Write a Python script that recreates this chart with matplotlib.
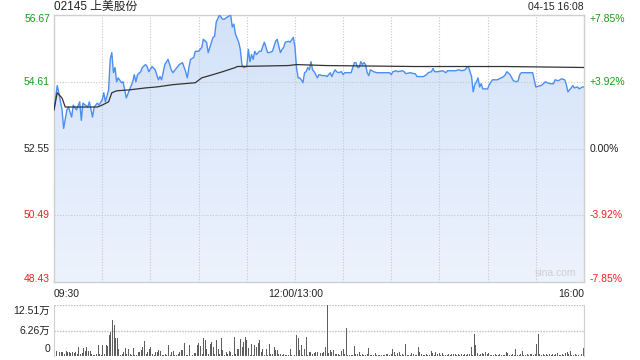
import matplotlib
matplotlib.use("Agg")
import matplotlib.pyplot as plt
import matplotlib.transforms as mtransforms
from matplotlib.path import Path
from matplotlib.patches import PathPatch
from matplotlib.colors import LinearSegmentedColormap
import numpy as np

plt.rcParams['font.family'] = ['Liberation Sans', 'Noto Sans CJK SC']

# ---- data ----
title = "02145 上美股份"
stamp = "04-15 16:08"
prev_close = 52.55
price_ticks = [48.43, 50.49, 52.55, 54.61, 56.67]
pct_labels = ["-7.85%", "-3.92%", "0.00%", "+3.92%", "+7.85%"]
time_labels = ["09:30", "12:00/13:00", "16:00"]
vol_max = 12.51
vol_labels = ["0", "6.26万", "12.51万"]

# minutes since 09:30 (lunch break removed) and price
px_min = [0, 2, 3, 5, 6, 8, 9, 11, 12, 14, 16, 17, 18, 21, 22, 24, 25, 27, 28, 30,
          31, 32, 34, 35, 36, 37, 38, 39, 40, 42, 43, 44, 45, 47, 49, 50, 51, 52, 54, 55,
          57, 58, 59, 61, 63, 65, 66, 67, 69, 71, 73, 74, 77, 78, 80, 82, 83, 84, 85, 87,
          88, 90, 92, 93, 95, 96, 98, 99, 100, 101, 103, 105, 106, 108, 110, 111, 112, 113, 115, 116,
          117, 118, 120, 121, 122, 123, 124, 125, 126, 128, 129, 130, 131, 133, 134, 136, 138, 139, 140, 141,
          142, 143, 144, 146, 147, 149, 150, 151, 152, 153, 154, 155, 156, 157, 158, 159, 160, 161, 162, 163,
          164, 165, 167, 169, 170, 171, 172, 173, 174, 175, 176, 177, 179, 180, 181, 182, 185, 186, 187, 188,
          189, 190, 191, 192, 193, 194, 195, 196, 197, 198, 199, 201, 204, 207, 209, 210, 211, 213, 214, 217,
          218, 219, 222, 224, 225, 226, 230, 232, 233, 235, 236, 237, 239, 242, 243, 244, 245, 248, 250, 252,
          254, 256, 257, 258, 260, 261, 262, 263, 264, 265, 266, 267, 270, 271, 273, 276, 280, 281, 282, 284,
          286, 288, 289, 290, 291, 293, 296, 298, 300, 303, 304, 306, 307, 309, 311, 312, 314, 316, 318, 319,
          320, 322, 323, 324, 326, 327, 329, 330]
price = [53.74, 54.49, 54.27, 53.74, 53.17, 53.74, 53.83, 53.52, 53.89, 53.74, 53.99, 53.42, 53.95, 53.83, 53.99, 53.52, 53.83, 53.95, 53.89, 54.05,
         54.27, 53.99, 54.36, 55.30, 55.51, 54.89, 55.05, 54.61, 54.73, 54.58, 54.61, 54.36, 54.11, 54.36, 54.61, 54.83, 54.61, 54.83, 54.92, 55.05,
         55.14, 55.08, 54.92, 55.08, 54.98, 54.67, 54.77, 54.67, 55.14, 55.30, 54.98, 54.89, 55.08, 55.14, 55.20, 54.92, 54.73, 55.05, 55.30, 55.36,
         55.55, 55.55, 55.67, 55.92, 55.83, 55.51, 55.83, 55.98, 56.01, 56.45, 56.67, 56.54, 56.54, 56.61, 56.67, 56.30, 56.39, 56.08, 55.83, 55.61,
         55.14, 55.05, 55.08, 55.61, 55.23, 55.45, 55.30, 55.55, 55.45, 55.55, 55.55, 55.70, 55.83, 55.51, 55.51, 55.55, 55.86, 55.92, 55.70, 55.51,
         55.61, 55.67, 55.83, 55.86, 55.83, 55.98, 55.70, 55.05, 54.73, 54.73, 54.67, 54.58, 54.89, 54.92, 55.05, 54.98, 55.23, 54.98, 54.92, 54.83,
         54.73, 54.83, 54.80, 54.80, 54.77, 54.83, 54.89, 54.77, 54.89, 54.98, 54.92, 54.89, 54.92, 54.83, 54.89, 54.89, 54.89, 55.05, 55.20, 55.20,
         55.05, 55.05, 55.23, 55.14, 55.20, 55.14, 54.89, 54.80, 54.98, 54.95, 54.92, 54.89, 54.89, 54.89, 54.89, 54.83, 54.92, 54.95, 54.92, 54.95,
         54.92, 54.86, 54.89, 54.86, 54.86, 54.77, 54.77, 54.83, 54.89, 54.92, 55.02, 54.92, 54.92, 54.95, 54.92, 54.89, 54.95, 54.95, 54.95, 54.98,
         54.95, 54.98, 55.05, 55.08, 54.77, 54.30, 54.52, 54.61, 54.73, 54.45, 54.55, 54.39, 54.39, 54.52, 54.67, 54.67, 54.77, 54.83, 54.92, 54.83,
         54.64, 54.61, 54.64, 54.83, 54.89, 54.89, 54.89, 54.89, 54.45, 54.49, 54.52, 54.61, 54.58, 54.55, 54.55, 54.67, 54.64, 54.70, 54.67, 54.52,
         54.30, 54.42, 54.49, 54.42, 54.45, 54.39, 54.45, 54.45]

avg_min = [0, 2, 5, 7, 10, 18, 27, 30, 34, 36, 39, 47, 57, 64, 74, 88, 92, 99, 105, 113,
           114, 146, 151, 169, 225, 281, 330]
avg_price = [53.74, 54.27, 54.11, 53.83, 53.83, 53.83, 53.83, 53.89, 53.99, 54.27, 54.33, 54.36, 54.42, 54.45, 54.52, 54.58, 54.73, 54.83, 54.92, 55.05,
             55.08, 55.11, 55.14, 55.11, 55.08, 55.08, 55.05]

# volume per minute, in 万 shares
volume = [1.0, 1.2, 0.6, 1.0, 0.9, 1.0, 0.5, 1.3, 0.9, 1.0,
          0.8, 1.0, 0.7, 0.9, 0.6, 2.2, 0.5, 0.8, 2.0, 1.2,
          2.2, 1.3, 1.2, 0.4, 0.3, 0.2, 0.5, 2.8, 0.5, 0.3,
          2.8, 0.5, 2.8, 2.5, 5.1, 5.9, 8.8, 7.6, 4.4, 4.4,
          1.8, 0.3, 0.5, 1.1, 2.0, 0.6, 1.8, 0.4, 0.3, 2.0,
          0.3, 0.2, 0.9, 1.0, 1.4, 2.2, 3.6, 0.4, 1.0, 1.6,
          2.2, 0.5, 0.3, 1.0, 0.9, 1.4, 1.3, 0.3, 0.2, 0.4,
          0.3, 2.8, 0.2, 1.1, 1.3, 0.3, 0.2, 0.6, 0.9, 1.4,
          1.4, 3.3, 0.3, 0.2, 2.8, 0.1, 0.3, 0.8, 0.8, 2.8,
          3.3, 2.5, 0.4, 4.3, 3.9, 1.8, 0.4, 3.0, 3.5, 2.2,
          0.5, 3.9, 1.8, 0.4, 4.3, 1.4, 0.3, 1.0, 0.4, 1.2,
          1.0, 0.3, 4.7, 0.4, 1.6, 1.6, 4.1, 2.2, 3.5, 4.7,
          3.9, 2.0, 0.3, 3.0, 0.3, 2.6, 2.2, 3.3, 3.9, 0.9,
          1.8, 0.3, 1.8, 0.3, 3.0, 0.4, 0.5, 2.2, 1.4, 1.4,
          0.4, 0.6, 0.3, 0.5, 0.3, 0.2, 0.3, 1.6, 0.2, 0.1,
          0.2, 5.1, 4.4, 1.4, 2.6, 0.3, 1.8, 4.7, 0.3, 0.9,
          1.0, 0.6, 0.8, 1.1, 0.9, 0.4, 0.7, 0.8, 1.0, 2.2,
          12.51, 0.8, 1.4, 1.0, 1.4, 0.4, 0.5, 0.5, 0.3, 1.2,
          1.6, 0.5, 6.9, 0.3, 0.3, 0.2, 0.3, 2.5, 0.4, 0.6,
          1.0, 0.2, 0.4, 0.3, 0.2, 0.5, 2.0, 0.3, 0.2, 0.3,
          0.8, 0.3, 0.2, 0.3, 0.3, 0.2, 0.3, 0.4, 0.6, 0.3,
          0.4, 1.8, 0.9, 0.3, 0.8, 1.0, 0.3, 0.6, 0.3, 3.0,
          0.3, 0.2, 0.3, 0.8, 0.4, 0.2, 0.3, 2.1, 1.1, 0.4,
          0.3, 0.2, 0.4, 0.3, 0.2, 1.2, 0.7, 0.3, 1.1, 0.5,
          0.8, 0.3, 0.7, 0.3, 0.2, 0.3, 0.4, 0.3, 0.5, 0.6,
          0.4, 0.3, 0.5, 0.3, 0.4, 0.3, 0.5, 0.3, 0.6, 0.4,
          2.2, 0.3, 5.3, 2.8, 0.7, 0.3, 0.6, 0.8, 0.4, 1.0,
          0.4, 0.8, 0.3, 0.2, 0.3, 0.5, 0.3, 0.2, 0.4, 0.3,
          0.3, 0.2, 1.0, 0.7, 0.3, 0.2, 0.4, 0.3, 1.6, 0.3,
          0.3, 0.4, 1.2, 0.3, 0.2, 0.4, 0.3, 0.5, 0.4, 0.3,
          0.4, 3.0, 5.3, 0.4, 0.3, 0.5, 0.3, 0.4, 0.3, 0.4,
          0.3, 0.4, 0.2, 0.6, 0.7, 0.3, 0.3, 0.4, 0.3, 0.7,
          0.9, 0.4, 1.3, 0.3, 0.2, 0.4, 0.3, 0.2, 0.5, 0.4, 2.0]

GREEN = '#1a9c1a'
RED = '#f02020'
GRID = '#c8c8c8'
FRAME = '#cfcfcf'
TXT = '#222222'

fig = plt.figure(figsize=(6.4, 3.6), dpi=100)
ax = fig.add_axes([54/640, 1-282/360, 530/640, 267/360])
axv = fig.add_axes([54/640, 1-356/360, 530/640, 51/360])

# ---- price panel ----
ax.set_xlim(0, 330)
ax.set_ylim(price_ticks[0], price_ticks[-1])

# gradient fill under the price line
grad = np.linspace(1, 0, 256).reshape(-1, 1)
fill_cmap = LinearSegmentedColormap.from_list('f', ['#edf3fd', '#d3e2f9'])
img = ax.imshow(grad, cmap=fill_cmap, aspect='auto', extent=[0, 330, price_ticks[0], price_ticks[-1]],
                origin='upper', zorder=1)
verts = [(px_min[0], price_ticks[0])] + list(zip(px_min, price)) + [(px_min[-1], price_ticks[0])]
clip = PathPatch(Path(verts), transform=ax.transData, facecolor='none', edgecolor='none')
ax.add_patch(clip)
img.set_clip_path(clip)

ax.plot(px_min, price, color='#4d8ef0', lw=1.0, zorder=3)
ax.plot(avg_min, avg_price, color='#333333', lw=0.9, zorder=4)

ax.set_xticks(np.arange(30, 330, 30))
ax.set_yticks(price_ticks[1:-1])
ax.grid(True, color=GRID, linestyle=(0, (1, 1.5)), lw=0.8)
ax.tick_params(length=0, labelleft=False, labelbottom=False)
for s in ax.spines.values():
    s.set_color(FRAME)
    s.set_linewidth(1)

tr_left = mtransforms.blended_transform_factory(fig.transFigure, ax.transData)
cols = [RED, RED, TXT, GREEN, GREEN]
for i, (v, lab) in enumerate(zip(price_ticks, pct_labels)):
    off = 0
    if i == 0:
        off = 0.09
    if i == len(price_ticks) - 1:
        off = -0.12
    ax.text(50/640, v + off, f"{v:.2f}", transform=tr_left, ha='right', va='center',
            fontsize=7.5, color=cols[i])
    ax.text(590/640, v + off, lab, transform=tr_left, ha='left', va='center',
            fontsize=7.5, color=cols[i])

fig.text(54/640, 1-7/360, title, ha='left', va='center', fontsize=8.5, color=TXT)
fig.text(584/640, 1-7/360, stamp, ha='right', va='center', fontsize=7.5, color=TXT)
ax.text(0.985, 0.015, "sina.com", transform=ax.transAxes, ha='right', va='bottom',
        fontsize=7.5, color='#d0d0d0')

fig.text(54/640, 1-294/360, time_labels[0], ha='left', va='center', fontsize=7.5, color=TXT)
fig.text(296/640, 1-294/360, time_labels[1], ha='center', va='center', fontsize=7.5, color=TXT)
fig.text(584/640, 1-294/360, time_labels[2], ha='right', va='center', fontsize=7.5, color=TXT)

# ---- volume panel ----
axv.bar(np.arange(len(volume)), volume, width=0.62, color='#5e5e5e', linewidth=0,
        antialiased=False, zorder=2)
axv.set_xlim(-0.5, 330.5)
axv.set_ylim(0, vol_max)
axv.set_xticks([])
axv.set_yticks([vol_max / 2, vol_max])
axv.grid(True, axis='y', color='#bdbdbd', linestyle=(0, (1, 1)), lw=1.0)
axv.tick_params(length=0, labelleft=False)
axv.spines['top'].set_visible(False)
axv.spines['bottom'].set_visible(False)
axv.spines['left'].set_color(FRAME)
axv.spines['right'].set_color(FRAME)

tr_v = mtransforms.blended_transform_factory(fig.transFigure, axv.transData)
axv.text(50/640, 0.6, vol_labels[0], transform=tr_v, ha='right', va='bottom', fontsize=7.5, color=TXT)
axv.text(50/640, vol_max / 2, vol_labels[1], transform=tr_v, ha='right', va='center', fontsize=7.5, color=TXT)
axv.text(50/640, vol_max - 0.2, vol_labels[2], transform=tr_v, ha='right', va='top', fontsize=7.5, color=TXT)

fig.savefig("out.png", dpi=100)
